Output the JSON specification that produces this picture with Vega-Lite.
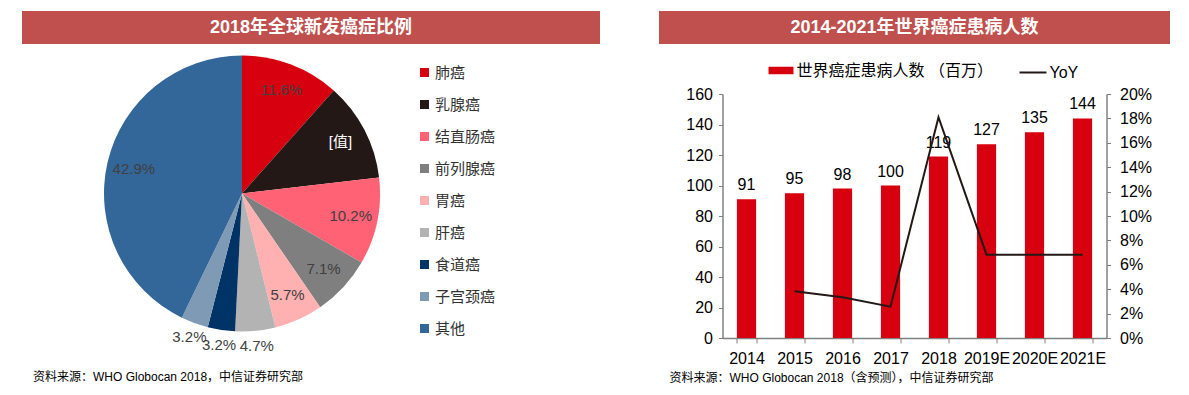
{
  "$schema": "https://vega.github.io/schema/vega-lite/v6.json",
  "padding": {"left": 22, "top": 11, "right": 0, "bottom": 0},
  "background": "white",
  "config": {
    "font": "Liberation Sans, Noto Sans CJK SC, sans-serif",
    "view": {"stroke": null}
  },
  "spacing": 59,
  "resolve": {"scale": {"color": "independent", "stroke": "independent", "theta": "independent"}},
  "hconcat": [
    {
      "spacing": 6,
      "bounds": "flush",
      "resolve": {"scale": {"color": "independent", "stroke": "independent", "theta": "independent"}},
      "vconcat": [
        {
          "width": 578,
          "height": 33,
          "view": {"fill": "#C0504D", "stroke": null},
          "data": {"values": [{"t": "2018年全球新发癌症比例"}]},
          "mark": {"type": "text", "color": "white", "fontWeight": "bold", "fontSize": 18},
          "encoding": {"text": {"field": "t"}}
        },
        {
          "width": 440,
          "height": 287,
          "data": {"values": [
            {"name": "肺癌", "v": 11.6, "label": "11.6%", "i": 1},
            {"name": "乳腺癌", "v": 11.6, "label": "[值]", "i": 2},
            {"name": "结直肠癌", "v": 10.2, "label": "10.2%", "i": 3},
            {"name": "前列腺癌", "v": 7.1, "label": "7.1%", "i": 4},
            {"name": "胃癌", "v": 5.7, "label": "5.7%", "i": 5},
            {"name": "肝癌", "v": 4.7, "label": "4.7%", "i": 6},
            {"name": "食道癌", "v": 3.2, "label": "3.2%", "i": 7},
            {"name": "子宫颈癌", "v": 3.2, "label": "3.2%", "i": 8},
            {"name": "其他", "v": 42.9, "label": "42.9%", "i": 9}
          ]},
          "title": {"text": "资料来源：WHO Globocan 2018，中信证券研究部", "orient": "bottom", "anchor": "start", "frame": "group", "dx": 11, "offset": 18, "fontSize": 12, "fontWeight": "normal", "color": "#000"},
          "encoding": {
            "theta": {"field": "v", "type": "quantitative", "stack": true},
            "order": {"field": "i", "type": "quantitative"},
            "detail": {"field": "name"}
          },
          "layer": [
            {
              "mark": {"type": "arc", "outerRadius": 138},
              "encoding": {
                "color": {
                  "field": "name", "type": "nominal",
                  "scale": {
                    "domain": ["肺癌", "乳腺癌", "结直肠癌", "前列腺癌", "胃癌", "肝癌", "食道癌", "子宫颈癌", "其他"],
                    "range": ["#D7000F", "#231815", "#FF6275", "#7F7F7F", "#FFB0B0", "#B3B3B3", "#003366", "#7F9AB5", "#336699"]
                  },
                  "legend": {"orient": "none", "legendX": 395, "legendY": 15, "title": null, "symbolType": "square", "symbolSize": 81, "symbolStrokeWidth": 0, "labelFontSize": 15, "labelColor": "#333333", "rowPadding": 16, "labelOffset": 3}
                }
              }
            },
            {
              "mark": {"type": "text", "radius": 111, "fontSize": 15},
              "encoding": {
                "text": {"condition": {"test": "datum.v >= 5", "field": "label"}, "value": ""},
                "color": {"condition": {"test": "datum.name == '乳腺癌'", "value": "white"}, "value": "#404040"}
              }
            },
            {
              "mark": {"type": "text", "radius": 153, "fontSize": 15, "color": "#404040"},
              "encoding": {
                "text": {"condition": {"test": "datum.v < 5", "field": "label"}, "value": ""}
              }
            }
          ]
        }
      ]
    },
    {
      "spacing": 50,
      "bounds": "flush",
      "center": true,
      "resolve": {"scale": {"color": "independent", "stroke": "independent"}},
      "vconcat": [
        {
          "width": 511,
          "height": 33,
          "view": {"fill": "#C0504D", "stroke": null},
          "data": {"values": [{"t": "2014-2021年世界癌症患病人数"}]},
          "mark": {"type": "text", "color": "white", "fontWeight": "bold", "fontSize": 18},
          "encoding": {"text": {"field": "t"}}
        },
        {
          "width": 384,
          "height": 244,
          "data": {"values": [
            {"year": "2014", "n": 91, "yoy": null},
            {"year": "2015", "n": 95, "yoy": 0.0383},
            {"year": "2016", "n": 98, "yoy": 0.0334},
            {"year": "2017", "n": 100, "yoy": 0.0257},
            {"year": "2018", "n": 119, "yoy": 0.181},
            {"year": "2019E", "n": 127, "yoy": 0.0683},
            {"year": "2020E", "n": 135, "yoy": 0.0683},
            {"year": "2021E", "n": 144, "yoy": 0.0683}
          ]},
          "title": {"text": "资料来源：WHO Globocan 2018（含预测），中信证券研究部", "orient": "bottom", "anchor": "start", "frame": "group", "dx": -53, "offset": 7, "fontSize": 12, "fontWeight": "normal", "color": "#000"},
          "encoding": {
            "x": {
              "field": "year", "type": "ordinal", "sort": null,
              "scale": {"paddingInner": 0.6, "paddingOuter": 0.3},
              "axis": {"title": null, "labelAngle": 0, "tickBand": "extent", "domainColor": "#808080", "tickColor": "#808080", "tickSize": 5, "domainWidth": 1.5, "labelFontSize": 16, "labelColor": "#000", "labelPadding": 7}
            }
          },
          "layer": [
            {
              "encoding": {
                "y": {
                  "field": "n", "type": "quantitative",
                  "scale": {"domain": [0, 160]},
                  "axis": {"title": null, "grid": false, "values": [0, 20, 40, 60, 80, 100, 120, 140, 160], "labelOverlap": false, "domainColor": "#808080", "tickColor": "#808080", "tickSize": 4, "domainWidth": 1.5, "labelFontSize": 16, "labelColor": "#000", "labelPadding": 6}
                }
              },
              "layer": [
                {
                  "mark": {"type": "bar"},
                  "encoding": {
                    "color": {
                      "datum": "世界癌症患病人数 （百万）",
                      "scale": {"range": ["#D7000F"]},
                      "legend": {"orient": "none", "legendX": 46, "legendY": -36, "title": null, "symbolType": "M-1,-0.3H1V0.3H-1Z", "symbolSize": 625, "symbolStrokeWidth": 0, "labelFontSize": 16, "labelColor": "#000", "labelOffset": 3, "labelLimit": 400}
                    }
                  }
                },
                {
                  "mark": {"type": "text", "dy": -9, "baseline": "alphabetic", "fontSize": 16, "color": "#000"},
                  "encoding": {
                    "text": {"field": "n"}
                  }
                }
              ]
            },
            {
              "mark": {"type": "line", "strokeWidth": 2},
              "encoding": {
                "y": {
                  "field": "yoy", "type": "quantitative",
                  "scale": {"domain": [0, 0.2]},
                  "axis": {"orient": "right", "title": null, "grid": false, "format": ".0%", "values": [0, 0.02, 0.04, 0.06, 0.08, 0.1, 0.12, 0.14, 0.16, 0.18, 0.2], "labelOverlap": false, "domainColor": "#808080", "tickColor": "#808080", "tickSize": 4, "domainWidth": 1.5, "labelFontSize": 16, "labelColor": "#000", "labelPadding": 9}
                },
                "stroke": {
                  "datum": "YoY",
                  "scale": {"range": ["#231815"]},
                  "legend": {"orient": "none", "legendX": 296, "legendY": -36, "title": null, "symbolType": "M-1,0H1", "symbolSize": 729, "symbolStrokeWidth": 2, "labelFontSize": 16, "labelColor": "#000", "labelOffset": 2}
                }
              }
            }
          ],
          "resolve": {"scale": {"y": "independent"}}
        }
      ]
    }
  ]
}
